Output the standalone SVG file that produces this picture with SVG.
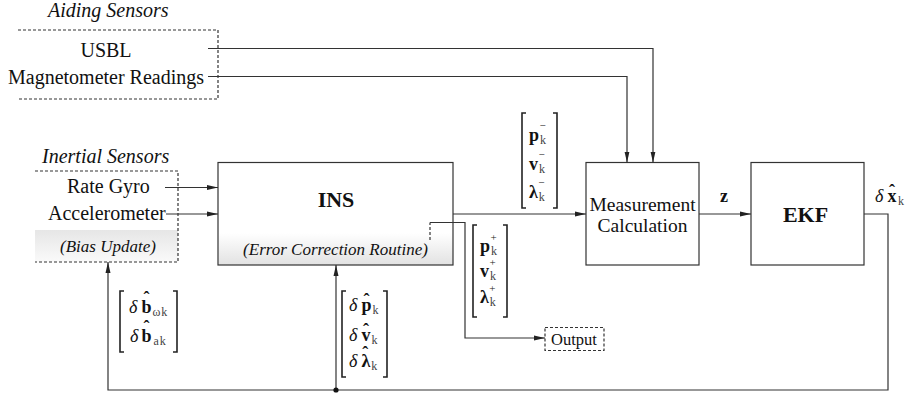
<svg xmlns="http://www.w3.org/2000/svg" width="907" height="398" viewBox="0 0 907 398">
<style>
text{font-family:"Liberation Serif","Times New Roman",serif;fill:#111}
.lbl{font-size:20px}
.it{font-style:italic}
.b{font-weight:bold}
.sub{font-size:12px;fill:#444;font-weight:normal;font-style:normal}
.sup{font-size:11px;fill:#222;font-weight:normal;font-style:normal}
.box{fill:none;stroke:#333;stroke-width:1.2}
.dash{fill:none;stroke:#333;stroke-width:1.2;stroke-dasharray:3,2}
.wire{fill:none;stroke:#333;stroke-width:1.2}
.brk{fill:none;stroke:#222;stroke-width:1.6}
.ent{font-size:18px}
</style>
<defs>
<marker id="arr" viewBox="0 0 11 6" refX="11" refY="3" markerWidth="11" markerHeight="6" markerUnits="userSpaceOnUse" orient="auto"><path d="M0,0.5 L11,3 L0,5.5 z" fill="#222"/></marker>
<linearGradient id="gIns" x1="0" y1="0" x2="0" y2="1"><stop offset="0" stop-color="#ffffff"/><stop offset="1" stop-color="#e2e2e2"/></linearGradient>
<linearGradient id="gBias" x1="0" y1="0" x2="0" y2="1"><stop offset="0" stop-color="#e6e6e6"/><stop offset="1" stop-color="#fafafa"/></linearGradient>
</defs>

<g id="aiding-sensors">
<path class="dash" d="M18,30 H218 V99 H18"/>
<text class="lbl it" x="48" y="17">Aiding Sensors</text>
<text class="lbl" x="106" y="57" text-anchor="middle">USBL</text>
<text class="lbl" x="8" y="84">Magnetometer Readings</text>
</g>

<g id="inertial-sensors">
<rect x="35" y="230" width="143" height="32" fill="url(#gBias)"/>
<path class="dash" d="M35,171 H178 V262 H35"/>
<text class="lbl it" x="42" y="163">Inertial Sensors</text>
<text class="lbl" x="67" y="193">Rate Gyro</text>
<text class="lbl" x="48" y="220">Accelerometer</text>
<text class="it" x="108" y="252" font-size="17" text-anchor="middle">(Bias Update)</text>
</g>

<g id="ins">
<rect x="218.5" y="233" width="234.5" height="32" fill="url(#gIns)"/>
<rect class="box" x="218" y="162.5" width="235" height="102.5"/>
<text class="b" x="336" y="207" font-size="22" text-anchor="middle">INS</text>
<text class="it" x="335.5" y="255" font-size="17" text-anchor="middle">(Error Correction Routine)</text>
</g>

<g id="measurement">
<rect class="box" x="586" y="162.5" width="113" height="102.5"/>
<text x="642.5" y="210.5" font-size="19.5" text-anchor="middle">Measurement</text>
<text x="642.5" y="231.5" font-size="19.5" text-anchor="middle">Calculation</text>
</g>

<g id="ekf">
<rect class="box" x="751" y="162.5" width="113" height="102.5"/>
<text class="b" x="805.5" y="222" font-size="22" text-anchor="middle">EKF</text>
</g>

<g id="output">
<rect class="dash" x="545" y="327.5" width="59" height="23"/>
<text x="551" y="345" font-size="16.5">Output</text>
</g>

<g id="connectors">
<path class="wire" d="M208,48.5 H653 V162.5" marker-end="url(#arr)"/>
<path class="wire" d="M208,76.5 H627 V162.5" marker-end="url(#arr)"/>
<path class="wire" d="M165,187.5 H218" marker-end="url(#arr)"/>
<path class="wire" d="M166,214 H218" marker-end="url(#arr)"/>
<path class="wire" d="M453,214 H586" marker-end="url(#arr)"/>
<path class="dash" d="M430,240 V222.5" stroke-dasharray="2,2"/>
<path class="wire" d="M430,222.5 H465 V338 H545" marker-end="url(#arr)"/>
<path class="wire" d="M699,214 H751" marker-end="url(#arr)"/>
<path class="wire" d="M864,214 H888 V390 H108 V262" marker-end="url(#arr)"/>
<path class="wire" d="M336,390 V265" marker-end="url(#arr)"/>
<circle cx="336" cy="390" r="2.6" fill="#111"/>
</g>

<g id="label-z">
<text class="b" x="720" y="201.5" font-size="18">z</text>
</g>

<g id="label-dxk">
<text class="ent" x="875" y="202"><tspan class="it">δ</tspan><tspan class="b" dx="4">x</tspan><tspan class="b" dx="-7.5" dy="-5">ˆ</tspan><tspan class="sub" dx="3" dy="8">k</tspan></text>
</g>

<g id="vec-minus">
<path class="brk" d="M526,113 H522 V208 H526"/>
<path class="brk" d="M553,113 H557 V208 H553"/>
<text class="ent" x="529" y="141"><tspan class="b">p</tspan><tspan class="sub" dx="1" dy="3">k</tspan><tspan class="sup" dx="-6.5" dy="-15">−</tspan></text>
<text class="ent" x="529" y="170"><tspan class="b">v</tspan><tspan class="sub" dx="1" dy="3">k</tspan><tspan class="sup" dx="-6.5" dy="-15">−</tspan></text>
<text class="ent" x="529" y="198"><tspan class="b">λ</tspan><tspan class="sub" dx="1" dy="3">k</tspan><tspan class="sup" dx="-6.5" dy="-15">−</tspan></text>
</g>

<g id="vec-plus">
<path class="brk" d="M477,225 H473 V317 H477"/>
<path class="brk" d="M503,225 H507 V317 H503"/>
<text class="ent" x="480" y="252"><tspan class="b">p</tspan><tspan class="sub" dx="1" dy="3">k</tspan><tspan class="sup" dx="-6.5" dy="-14">+</tspan></text>
<text class="ent" x="480" y="277"><tspan class="b">v</tspan><tspan class="sub" dx="1" dy="3">k</tspan><tspan class="sup" dx="-6.5" dy="-14">+</tspan></text>
<text class="ent" x="480" y="303"><tspan class="b">λ</tspan><tspan class="sub" dx="1" dy="3">k</tspan><tspan class="sup" dx="-6.5" dy="-14">+</tspan></text>
</g>

<g id="vec-delta-state">
<path class="brk" d="M346,291 H342 V377 H346"/>
<path class="brk" d="M383,291 H387 V377 H383"/>
<text class="ent" x="349" y="311"><tspan class="it">δ</tspan><tspan class="b" dx="4">p</tspan><tspan class="b" dx="-8" dy="-5">ˆ</tspan><tspan class="sub" dx="3" dy="8">k</tspan></text>
<text class="ent" x="349" y="341"><tspan class="it">δ</tspan><tspan class="b" dx="4">v</tspan><tspan class="b" dx="-7.5" dy="-5">ˆ</tspan><tspan class="sub" dx="2.5" dy="8">k</tspan></text>
<text class="ent" x="349" y="367"><tspan class="it">δ</tspan><tspan class="b" dx="4">λ</tspan><tspan class="b" dx="-8" dy="-8">ˆ</tspan><tspan class="sub" dx="3" dy="11">k</tspan></text>
</g>

<g id="vec-delta-bias">
<path class="brk" d="M124,291 H120 V352 H124"/>
<path class="brk" d="M173,291 H177 V352 H173"/>
<text class="ent" x="129" y="313"><tspan class="it">δ</tspan><tspan class="b" dx="4">b</tspan><tspan class="b" dx="-8" dy="-9">ˆ</tspan><tspan class="sub" dx="3" dy="12" letter-spacing="1">ωk</tspan></text>
<text class="ent" x="130" y="342"><tspan class="it">δ</tspan><tspan class="b" dx="3">b</tspan><tspan class="b" dx="-8" dy="-9">ˆ</tspan><tspan class="sub" dx="4" dy="12" letter-spacing="1">ak</tspan></text>
</g>
</svg>
